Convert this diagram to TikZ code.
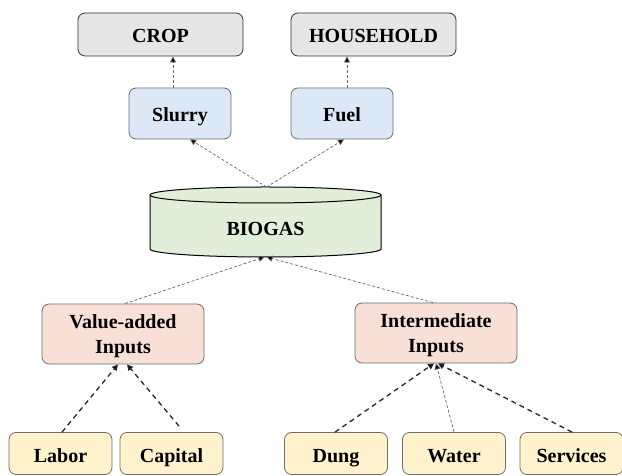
\documentclass[tikz,border=0pt]{standalone}
\usepackage{fontspec}
\setmainfont{Liberation Serif}
\usetikzlibrary{arrows.meta,calc}
\definecolor{gfill}{HTML}{E6E6E6}
\definecolor{bfill}{HTML}{DCE8F5}
\definecolor{grfill}{HTML}{E1EED9}
\definecolor{pfill}{HTML}{F9E0D6}
\definecolor{yfill}{HTML}{FFF2CC}
\definecolor{edge}{HTML}{6E6E6E}
\begin{document}
\begin{tikzpicture}[x=1pt,y=1pt,
  box/.style={draw=edge,line width=0.8pt,rounded corners=7pt,align=center,
    font=\fontsize{20}{25.7}\selectfont\bfseries,inner sep=0pt},
  graybox/.style={box,fill=gfill,draw=black!80,minimum width=165pt,minimum height=43pt,
    text height=16pt,text depth=0pt},
  bluebox/.style={box,fill=bfill,minimum width=102pt,minimum height=51pt,
    text height=16pt,text depth=0pt},
  pinkbox/.style={box,fill=pfill,minimum width=162pt,minimum height=60pt,text depth=0pt},
  yelbox/.style={box,fill=yfill,minimum width=103pt,minimum height=42pt,
    text height=17.4pt,text depth=0pt},
  thinarr/.style={draw=black!60,line width=0.7pt,dash pattern=on 3pt off 2pt,
    -{Triangle[width=6pt,length=6pt,fill=black]}},
  thickarr/.style={draw=black!85,line width=1.3pt,dash pattern=on 5pt off 4pt,
    -{Triangle[width=6pt,length=6pt,fill=black]}},
]
\clip (0,0) rectangle (622,476);
\fill[white] (0,0) rectangle (622,476);

% top row
\node[graybox] (crop) at (160.5,441.5) {CROP};
\node[graybox] (house) at (373.5,441.5) {HOUSEHOLD};
\node[bluebox] (slurry) at (180,362.5) {Slurry};
\node[bluebox] (fuel) at (342,362.5) {Fuel};

% cylinder
\path[fill=grfill,draw=black,line width=1pt]
  (150,281) -- (150,227) arc[start angle=180,end angle=360,x radius=115.5,y radius=8]
  -- (381,281) arc[start angle=0,end angle=180,x radius=115.5,y radius=8] -- cycle;
\draw[black,line width=1pt] (150,281) arc[start angle=180,end angle=360,x radius=115.5,y radius=8];
\node[font=\fontsize{20}{25.7}\selectfont\bfseries] (biogas) at (265.5,247) {BIOGAS};
\coordinate (bgtop) at (266.5,289);
\coordinate (bgbot) at (265.5,219);

% middle row
\node[pinkbox] (value) at (123,142) {Value-added\\Inputs};
\node[pinkbox] (inter) at (436,143) {Intermediate\\Inputs};

% bottom row
\node[yelbox] (labor) at (60.5,22.5) {Labor};
\node[yelbox] (capital) at (171.5,22.5) {Capital};
\node[yelbox] (dung) at (336,22.5) {Dung};
\node[yelbox] (water) at (454,22.5) {Water};
\node[yelbox] (services) at (571.5,22.5) {Services};

% connectors top
\draw[thinarr] ([xshift=-7pt]slurry.north) -- ([xshift=-7pt]slurry.north |- crop.south);
\draw[thinarr] ([xshift=5pt]fuel.north) -- ([xshift=5pt]fuel.north |- house.south);
\draw[thinarr] (bgtop) -- ([xshift=10pt]slurry.south);
\draw[thinarr] (bgtop) -- ([xshift=2pt]fuel.south);

% connectors into biogas
\draw[thinarr] ([xshift=2pt]value.north) -- ([xshift=-1pt]bgbot);
\draw[thinarr] ([xshift=-3pt]inter.north) -- ([xshift=1pt]bgbot);

% connectors bottom
\draw[thickarr] ([xshift=1.5pt]labor.north) -- ([xshift=-5pt]value.south);
\draw[thickarr] ([xshift=7.5pt,yshift=6pt]capital.north) -- ([xshift=4pt]value.south);
\draw[thickarr] ([xshift=-1pt]dung.north) -- ([xshift=-2pt]inter.south);
\draw[thinarr] (water.north) -- ([xshift=0pt]inter.south);
\draw[thickarr] ([xshift=0.5pt]services.north) -- ([xshift=2pt]inter.south);
\end{tikzpicture}
\end{document}
